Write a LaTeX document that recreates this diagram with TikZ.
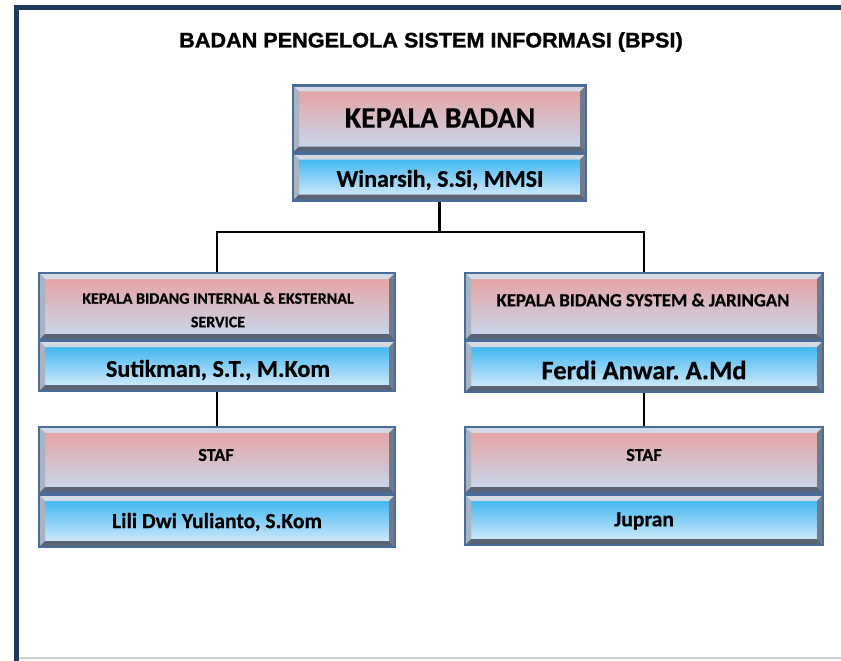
\documentclass[tikz,border=0pt]{standalone}
\usepackage{fontspec}
\setmainfont{Carlito}[BoldFeatures={FakeBold=0.5}]
\newfontfamily\titlefont{Liberation Sans}[BoldFeatures={FakeBold=1.2}]
\frenchspacing
\definecolor{framec}{HTML}{1F3A5A}
\definecolor{boxborder}{HTML}{4A6C9B}
\definecolor{pinktop}{HTML}{E8A09E}
\definecolor{pinkbot}{HTML}{C6DAF1}
\definecolor{bluetop}{HTML}{2DB0F2}
\definecolor{bluebot}{HTML}{E2EFFB}
\definecolor{bvtop}{HTML}{D4DAE3}
\definecolor{bvleft}{HTML}{A9B3C1}
\definecolor{bvright}{HTML}{6F7B8C}
\definecolor{bvbot}{HTML}{5A6474}
\tikzset{
  bevel/.style={path picture={
    \fill[bvtop] (path picture bounding box.north west) -- (path picture bounding box.north east)
      -- ([xshift=-6pt,yshift=-6pt]path picture bounding box.north east) -- ([xshift=6pt,yshift=-6pt]path picture bounding box.north west) -- cycle;
    \fill[bvleft] (path picture bounding box.north west) -- ([xshift=6pt,yshift=-6pt]path picture bounding box.north west)
      -- ([xshift=6pt,yshift=6pt]path picture bounding box.south west) -- (path picture bounding box.south west) -- cycle;
    \fill[bvright] (path picture bounding box.north east) -- ([xshift=-6pt,yshift=-6pt]path picture bounding box.north east)
      -- ([xshift=-6pt,yshift=6pt]path picture bounding box.south east) -- (path picture bounding box.south east) -- cycle;
    \fill[bvbot] (path picture bounding box.south west) -- ([xshift=6pt,yshift=6pt]path picture bounding box.south west)
      -- ([xshift=-6pt,yshift=6pt]path picture bounding box.south east) -- (path picture bounding box.south east) -- cycle;
  }},
  titlebox/.style={rectangle, draw=boxborder, line width=2.2pt, top color=pinktop, bottom color=pinkbot, bevel, inner sep=0pt},
  namebox/.style={rectangle, draw=boxborder, line width=2.2pt, top color=bluetop, bottom color=bluebot, bevel, inner sep=0pt},
  label/.style={font=\bfseries, text=black, align=center, inner sep=0pt},
  conn/.style={line width=2.8pt, black},
}
\begin{document}
\begin{tikzpicture}[x=1pt,y=-1pt]
\useasboundingbox (0,0) rectangle (841,661);
\fill[white] (0,0) rectangle (841,661);
% frame
\fill[framec] (14,5) rectangle (841,10);
\fill[framec] (14,5) rectangle (19,661);
\draw[gray!40, line width=1.5pt] (19,658) -- (841,658);
% title
\node[inner sep=0pt, font=\titlefont\bfseries\fontsize{21}{24}\selectfont] (title) at (431,42) {\scalebox{1.03}[1]{BADAN PENGELOLA SISTEM INFORMASI (BPSI)}};
% boxes
\node[titlebox, minimum width=293pt, minimum height=67pt] (kb) at (439.5,119) {};
\node[namebox, minimum width=293pt, minimum height=47pt] (kbn) at (439.5,177) {};
\node[titlebox, minimum width=356pt, minimum height=67pt] (lb) at (217,306.5) {};
\node[namebox, minimum width=356pt, minimum height=50pt] (lbn) at (217,366) {};
\node[titlebox, minimum width=358pt, minimum height=67pt] (rb) at (644,306.5) {};
\node[namebox, minimum width=358pt, minimum height=51pt] (rbn) at (644,366.5) {};
\node[titlebox, minimum width=356pt, minimum height=66pt] (ls) at (217,460) {};
\node[namebox, minimum width=356pt, minimum height=52pt] (lsn) at (217,521) {};
\node[titlebox, minimum width=358pt, minimum height=66pt] (rs) at (644,460) {};
\node[namebox, minimum width=358pt, minimum height=50pt] (rsn) at (644,520) {};
% texts
\node[label, font=\bfseries\fontsize{29.8}{32}\selectfont] (kbt) at (440,118) {KEPALA BADAN};
\node[label, font=\bfseries\fontsize{24}{26}\selectfont] (kbnt) at (440,180) {Winarsih, S.Si, MMSI};
\node[label, font=\bfseries\fontsize{16}{23.5}\selectfont] (lbt) at (218,310) {KEPALA BIDANG INTERNAL \& EKSTERNAL\\SERVICE};
\node[label, font=\bfseries\fontsize{24.2}{26}\selectfont] (lbnt) at (218,370) {Sutikman, S.T., M.Kom};
\node[label, font=\bfseries\fontsize{18.7}{20}\selectfont] (rbt) at (643,300) {KEPALA BIDANG SYSTEM \& JARINGAN};
\node[label, font=\bfseries\fontsize{26.6}{28}\selectfont] (rbnt) at (644,370) {Ferdi Anwar. A.Md};
\node[label, font=\bfseries\fontsize{18.2}{20}\selectfont] (lst) at (216,455) {STAF};
\node[label, font=\bfseries\fontsize{21.6}{24}\selectfont] (lsnt) at (217,522) {Lili Dwi Yulianto, S.Kom};
\node[label, font=\bfseries\fontsize{18.2}{20}\selectfont] (rst) at (644,455) {STAF};
\node[label, font=\bfseries\fontsize{21.6}{24}\selectfont] (rsnt) at (644,521) {Jupran};
% connectors
\coordinate (bus) at (0,232);
\draw[conn] (kbn.south) -- (kbn.south |- bus);
\draw[conn] (lb.north) -- (lb.north |- bus) -- (rb.north |- bus) -- (rb.north);
\draw[conn] (lbn.south) -- (ls.north);
\draw[conn] (rbn.south) -- (rs.north);
\end{tikzpicture}
\end{document}
